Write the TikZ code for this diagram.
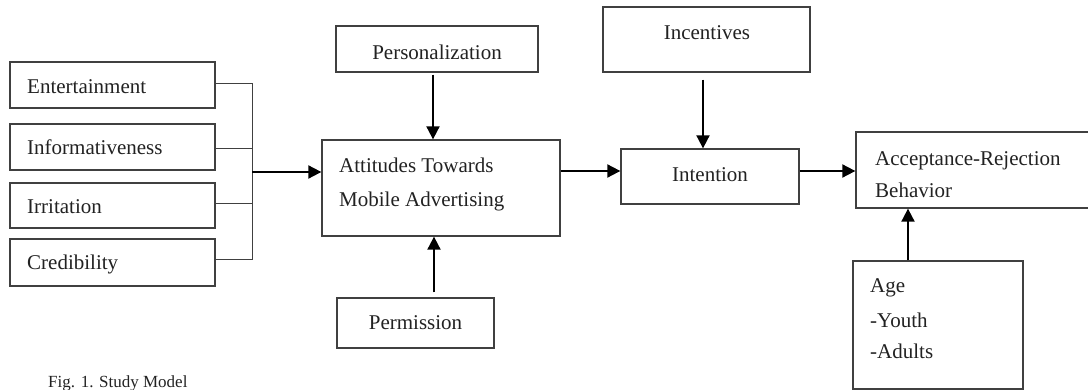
\documentclass[tikz,border=0pt]{standalone}
\usepackage{fontspec}
\setmainfont{Liberation Serif}
\usetikzlibrary{arrows.meta}
\definecolor{boxline}{HTML}{404040}
\definecolor{txt}{HTML}{222222}
\tikzset{
  box/.style={draw=boxline, line width=1.3pt, inner sep=0pt, rectangle},
  lbl/.style={anchor=base west, inner sep=0pt, text=txt, font=\fontsize{21}{21}\selectfont},
  clbl/.style={anchor=base, inner sep=0pt, text=txt, font=\fontsize{21}{21}\selectfont},
  arr/.style={draw=black, line width=1.9pt, -{Triangle[length=13pt,width=13pt]}},
  thin/.style={draw=boxline, line width=1pt}
}
\begin{document}
\begin{tikzpicture}[x=1pt,y=-1pt]
\useasboundingbox[fill=white] (0,0) rectangle (1088,390);
% left boxes
\node[box, minimum width=205pt, minimum height=46pt] (ent) at (112.5,85) {};
\node[box, minimum width=205pt, minimum height=46pt] (inf) at (112.5,147) {};
\node[box, minimum width=205pt, minimum height=45pt] (irr) at (112.5,205.5) {};
\node[box, minimum width=205pt, minimum height=47pt] (cred) at (112.5,262.5) {};
\node[lbl] (entT) at (27,94) {Entertainment};
\node[lbl] (infT) at (27,155) {Informativeness};
\node[lbl] (irrT) at (27,214) {Irritation};
\node[lbl] (credT) at (27,270) {Credibility};
% central
\node[box, minimum width=238pt, minimum height=96pt] (att) at (441,188) {};
\node[lbl] (attT1) at (339,173) {Attitudes Towards};
\node[lbl] (attT2) at (339,207) {Mobile Advertising};
\node[box, minimum width=202pt, minimum height=46pt] (pers) at (437,49) {};
\node[clbl] (persT) at (437,60) {Personalization};
\node[box, minimum width=157pt, minimum height=50pt] (perm) at (415.5,323) {};
\node[clbl] (permT) at (415.5,330) {Permission};
\node[box, minimum width=207pt, minimum height=65pt] (inc) at (706.5,39.5) {};
\node[clbl] (incT) at (707,40) {Incentives};
\node[box, minimum width=178pt, minimum height=55pt] (int) at (710,176.5) {};
\node[clbl] (intT) at (710,182) {Intention};
\node[box, minimum width=239pt, minimum height=76pt] (acc) at (975.5,170) {};
\node[lbl] (accT1) at (875,166) {Acceptance-Rejection};
\node[lbl] (accT2) at (875,198) {Behavior};
\node[box, minimum width=170pt, minimum height=128pt] (age) at (938,325) {};
\node[lbl] (ageT1) at (870,293) {Age};
\node[lbl] (ageT2) at (870,327) {-Youth};
\node[lbl] (ageT3) at (870,359) {-Adults};
\node[anchor=base west, inner sep=0pt, text=txt, font=\fontsize{17}{17}\selectfont] (cap) at (48,388) {Fig. 1. Study Model};
% connectors
\coordinate (j) at (252,172);
\draw[thin] ([yshift=1pt]ent.east) -- ([yshift=1pt]ent.east -| j)
  -- ([yshift=2.5pt]cred.east -| j) -- ([yshift=2.5pt]cred.east);
\draw[thin] ([yshift=-2pt]inf.east) -- ([yshift=-2pt]inf.east -| j);
\draw[thin] ([yshift=1.5pt]irr.east) -- ([yshift=1.5pt]irr.east -| j);
\draw[arr] (j) -- (j -| att.west);
\draw[arr] ([xshift=-4pt,yshift=-2pt]pers.south) -- ([xshift=-4pt]pers.south |- att.north);
\draw[arr] ([xshift=18.5pt,yshift=5pt]perm.north) -- ([xshift=18.5pt]perm.north |- att.south);
\draw[arr] ([yshift=17pt]att.east) -- ([yshift=17pt]att.east -| int.west);
\draw[arr] ([xshift=-3.5pt,yshift=-7pt]inc.south) -- ([xshift=-3.5pt]inc.south |- int.north);
\draw[arr] ([yshift=5.5pt]int.east) -- ([yshift=5.5pt]int.east -| acc.west);
\draw[arr] ([xshift=-30pt]age.north) -- ([xshift=-30pt]age.north |- acc.south);
\end{tikzpicture}
\end{document}
